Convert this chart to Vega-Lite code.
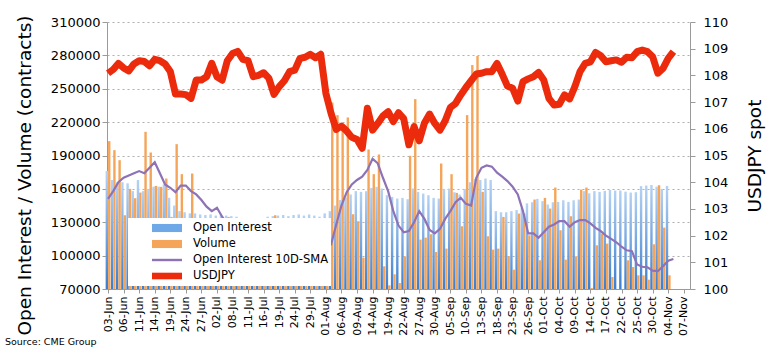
{
"$schema":"https://vega.github.io/schema/vega-lite/v6.json",
"width":583,"height":267,"autosize":"none",
"padding":{"left":107,"top":22,"right":77,"bottom":65},
"config":{"font":"DejaVu Sans","view":{"stroke":null},"axis":{"domainColor":"#9a9a9a","tickColor":"#9a9a9a","labelColor":"#000","titleColor":"#000","titleFontWeight":"normal"}},
"title":{"text":"Source: CME Group","orient":"bottom","anchor":"start","frame":"group","dx":-102,"offset":2,"fontSize":9.5,"fontWeight":"normal","color":"#000"},
"datasets":{"main":[
{"d":"03-Jun","oi":176000,"vol":202900,"sma":151000,"jpy":108.08},
{"d":"04-Jun","oi":168000,"vol":194800,"sma":158000,"jpy":108.22},
{"d":"05-Jun","oi":166000,"vol":185800,"sma":166000,"jpy":108.45},
{"d":"06-Jun","oi":166000,"vol":136300,"sma":170000,"jpy":108.28},
{"d":"07-Jun","oi":165000,"vol":160000,"sma":172000,"jpy":108.17},
{"d":"10-Jun","oi":158000,"vol":151600,"sma":174000,"jpy":108.43},
{"d":"11-Jun","oi":168000,"vol":156700,"sma":176000,"jpy":108.55},
{"d":"12-Jun","oi":158000,"vol":211300,"sma":174000,"jpy":108.52},
{"d":"13-Jun","oi":160000,"vol":192700,"sma":179000,"jpy":108.36},
{"d":"14-Jun","oi":162000,"vol":162700,"sma":184000,"jpy":108.6},
{"d":"17-Jun","oi":162000,"vol":161800,"sma":174000,"jpy":108.55},
{"d":"18-Jun","oi":164000,"vol":169300,"sma":164000,"jpy":108.43},
{"d":"19-Jun","oi":152000,"vol":134800,"sma":161000,"jpy":108.15},
{"d":"20-Jun","oi":145000,"vol":200200,"sma":157000,"jpy":107.3},
{"d":"21-Jun","oi":140000,"vol":173200,"sma":163000,"jpy":107.3},
{"d":"24-Jun","oi":139000,"vol":125000,"sma":163000,"jpy":107.28},
{"d":"25-Jun","oi":138000,"vol":173800,"sma":158000,"jpy":107.14},
{"d":"26-Jun","oi":138000,"vol":118000,"sma":155000,"jpy":107.83},
{"d":"27-Jun","oi":137000,"vol":95000,"sma":150000,"jpy":107.83},
{"d":"28-Jun","oi":136500,"vol":104000,"sma":144000,"jpy":107.95},
{"d":"01-Jul","oi":137000,"vol":112000,"sma":140000,"jpy":108.45},
{"d":"02-Jul","oi":136000,"vol":98000,"sma":143000,"jpy":107.95},
{"d":"03-Jul","oi":136500,"vol":121000,"sma":135000,"jpy":107.82},
{"d":"05-Jul","oi":136000,"vol":134800,"sma":128000,"jpy":108.55},
{"d":"08-Jul","oi":135500,"vol":110000,"sma":124000,"jpy":108.82},
{"d":"09-Jul","oi":135000,"vol":101000,"sma":120000,"jpy":108.9},
{"d":"10-Jul","oi":131000,"vol":97000,"sma":117000,"jpy":108.6},
{"d":"11-Jul","oi":130000,"vol":106000,"sma":113000,"jpy":108.55},
{"d":"12-Jul","oi":129000,"vol":92000,"sma":110000,"jpy":107.95},
{"d":"15-Jul","oi":130000,"vol":99000,"sma":106000,"jpy":108.0},
{"d":"16-Jul","oi":131000,"vol":88000,"sma":103000,"jpy":108.1},
{"d":"17-Jul","oi":135000,"vol":104000,"sma":100000,"jpy":107.9},
{"d":"18-Jul","oi":135500,"vol":136300,"sma":97000,"jpy":107.29},
{"d":"19-Jul","oi":136000,"vol":96000,"sma":95000,"jpy":107.58},
{"d":"22-Jul","oi":136500,"vol":90000,"sma":93000,"jpy":107.8},
{"d":"23-Jul","oi":135500,"vol":101000,"sma":92000,"jpy":108.14},
{"d":"24-Jul","oi":136500,"vol":94000,"sma":92000,"jpy":108.2},
{"d":"25-Jul","oi":137000,"vol":99000,"sma":93000,"jpy":108.64},
{"d":"26-Jul","oi":136000,"vol":91000,"sma":95000,"jpy":108.68},
{"d":"29-Jul","oi":137000,"vol":87000,"sma":98000,"jpy":108.79},
{"d":"30-Jul","oi":136000,"vol":112000,"sma":101000,"jpy":108.66},
{"d":"31-Jul","oi":135000,"vol":96000,"sma":104000,"jpy":108.79},
{"d":"01-Aug","oi":138000,"vol":120000,"sma":106000,"jpy":107.33},
{"d":"02-Aug","oi":140000,"vol":237700,"sma":110000,"jpy":106.58},
{"d":"05-Aug","oi":145000,"vol":226300,"sma":128000,"jpy":105.98},
{"d":"06-Aug","oi":150000,"vol":216400,"sma":145000,"jpy":106.1},
{"d":"07-Aug","oi":152000,"vol":224200,"sma":157000,"jpy":105.92},
{"d":"08-Aug","oi":155000,"vol":137200,"sma":164000,"jpy":105.68},
{"d":"09-Aug","oi":158000,"vol":130900,"sma":168000,"jpy":105.6},
{"d":"12-Aug","oi":157300,"vol":98200,"sma":171000,"jpy":105.27},
{"d":"13-Aug","oi":157900,"vol":195400,"sma":177000,"jpy":106.77},
{"d":"14-Aug","oi":160900,"vol":173200,"sma":187000,"jpy":105.95},
{"d":"15-Aug","oi":161800,"vol":190900,"sma":183000,"jpy":106.2},
{"d":"16-Aug","oi":160300,"vol":90400,"sma":170000,"jpy":106.48},
{"d":"19-Aug","oi":154300,"vol":73300,"sma":158000,"jpy":106.64},
{"d":"20-Aug","oi":152800,"vol":83200,"sma":140000,"jpy":106.27},
{"d":"21-Aug","oi":151300,"vol":75400,"sma":127000,"jpy":106.6},
{"d":"22-Aug","oi":151900,"vol":99400,"sma":121000,"jpy":106.38},
{"d":"23-Aug","oi":150700,"vol":189700,"sma":122000,"jpy":105.4},
{"d":"26-Aug","oi":160300,"vol":240700,"sma":130000,"jpy":106.08},
{"d":"27-Aug","oi":157300,"vol":114400,"sma":140000,"jpy":105.55},
{"d":"28-Aug","oi":155800,"vol":116200,"sma":133000,"jpy":106.22},
{"d":"29-Aug","oi":154300,"vol":119200,"sma":123000,"jpy":106.55},
{"d":"30-Aug","oi":151900,"vol":103300,"sma":120000,"jpy":106.2},
{"d":"03-Sep","oi":151300,"vol":182800,"sma":124000,"jpy":105.95},
{"d":"04-Sep","oi":160000,"vol":106300,"sma":133000,"jpy":106.3},
{"d":"05-Sep","oi":160300,"vol":173200,"sma":140000,"jpy":106.8},
{"d":"06-Sep","oi":157000,"vol":156400,"sma":148000,"jpy":106.95},
{"d":"09-Sep","oi":154900,"vol":126400,"sma":152000,"jpy":107.27},
{"d":"10-Sep","oi":160000,"vol":226300,"sma":146500,"jpy":107.55},
{"d":"11-Sep","oi":166000,"vol":271300,"sma":145000,"jpy":107.8},
{"d":"12-Sep","oi":169000,"vol":279400,"sma":170000,"jpy":108.05},
{"d":"13-Sep","oi":168000,"vol":157300,"sma":179000,"jpy":108.08},
{"d":"16-Sep","oi":169300,"vol":117400,"sma":181000,"jpy":108.14},
{"d":"17-Sep","oi":168000,"vol":105400,"sma":180000,"jpy":108.14},
{"d":"18-Sep","oi":140000,"vol":106300,"sma":174500,"jpy":108.45},
{"d":"19-Sep","oi":139000,"vol":134800,"sma":171000,"jpy":108.04},
{"d":"20-Sep","oi":139000,"vol":99400,"sma":167000,"jpy":107.6},
{"d":"23-Sep","oi":140000,"vol":87400,"sma":162000,"jpy":107.52},
{"d":"24-Sep","oi":141000,"vol":137800,"sma":155000,"jpy":107.04},
{"d":"25-Sep","oi":143000,"vol":137800,"sma":140000,"jpy":107.77},
{"d":"26-Sep","oi":147000,"vol":118300,"sma":120000,"jpy":107.87},
{"d":"27-Sep","oi":148000,"vol":150400,"sma":120000,"jpy":107.95},
{"d":"30-Sep","oi":151000,"vol":95800,"sma":116000,"jpy":108.11},
{"d":"01-Oct","oi":149000,"vol":151900,"sma":121000,"jpy":107.83},
{"d":"02-Oct","oi":146000,"vol":142300,"sma":126000,"jpy":107.14},
{"d":"03-Oct","oi":148000,"vol":161200,"sma":128000,"jpy":106.89},
{"d":"04-Oct","oi":148300,"vol":122800,"sma":131000,"jpy":106.92},
{"d":"07-Oct","oi":149800,"vol":96400,"sma":131000,"jpy":107.27},
{"d":"08-Oct","oi":148300,"vol":135400,"sma":126000,"jpy":107.12},
{"d":"09-Oct","oi":149800,"vol":99400,"sma":130000,"jpy":107.58},
{"d":"10-Oct","oi":150400,"vol":159400,"sma":132000,"jpy":108.14},
{"d":"11-Oct","oi":158000,"vol":161200,"sma":132000,"jpy":108.45},
{"d":"14-Oct","oi":156000,"vol":71000,"sma":129000,"jpy":108.51},
{"d":"15-Oct","oi":158000,"vol":109300,"sma":125000,"jpy":108.86},
{"d":"16-Oct","oi":157300,"vol":119800,"sma":122000,"jpy":108.74},
{"d":"17-Oct","oi":158200,"vol":110800,"sma":118000,"jpy":108.51},
{"d":"18-Oct","oi":159000,"vol":80800,"sma":115000,"jpy":108.55},
{"d":"21-Oct","oi":158500,"vol":null,"sma":112000,"jpy":108.58},
{"d":"22-Oct","oi":158500,"vol":null,"sma":108000,"jpy":108.49},
{"d":"23-Oct","oi":157500,"vol":95800,"sma":104800,"jpy":108.68},
{"d":"24-Oct","oi":156700,"vol":89800,"sma":104000,"jpy":108.66},
{"d":"25-Oct","oi":157000,"vol":82300,"sma":92000,"jpy":108.89},
{"d":"28-Oct","oi":162500,"vol":82300,"sma":90000,"jpy":108.95},
{"d":"29-Oct","oi":163000,"vol":78400,"sma":89500,"jpy":108.89},
{"d":"30-Oct","oi":163500,"vol":110200,"sma":86500,"jpy":108.7},
{"d":"31-Oct","oi":162000,"vol":163300,"sma":86000,"jpy":108.08},
{"d":"01-Nov","oi":160000,"vol":125200,"sma":90500,"jpy":108.26},
{"d":"04-Nov","oi":162700,"vol":82300,"sma":95500,"jpy":108.64},
{"d":"05-Nov","oi":null,"vol":null,"sma":97000,"jpy":108.89}
]},
"data":{"name":"main"},
"encoding":{"x":{"field":"d","type":"ordinal","title":null,
 "scale":{"type":"point","padding":0.2,"domain":["03-Jun","04-Jun","05-Jun","06-Jun","07-Jun","10-Jun","11-Jun","12-Jun","13-Jun","14-Jun","17-Jun","18-Jun","19-Jun","20-Jun","21-Jun","24-Jun","25-Jun","26-Jun","27-Jun","28-Jun","01-Jul","02-Jul","03-Jul","05-Jul","08-Jul","09-Jul","10-Jul","11-Jul","12-Jul","15-Jul","16-Jul","17-Jul","18-Jul","19-Jul","22-Jul","23-Jul","24-Jul","25-Jul","26-Jul","29-Jul","30-Jul","31-Jul","01-Aug","02-Aug","05-Aug","06-Aug","07-Aug","08-Aug","09-Aug","12-Aug","13-Aug","14-Aug","15-Aug","16-Aug","19-Aug","20-Aug","21-Aug","22-Aug","23-Aug","26-Aug","27-Aug","28-Aug","29-Aug","30-Aug","03-Sep","04-Sep","05-Sep","06-Sep","09-Sep","10-Sep","11-Sep","12-Sep","13-Sep","16-Sep","17-Sep","18-Sep","19-Sep","20-Sep","23-Sep","24-Sep","25-Sep","26-Sep","27-Sep","30-Sep","01-Oct","02-Oct","03-Oct","04-Oct","07-Oct","08-Oct","09-Oct","10-Oct","11-Oct","14-Oct","15-Oct","16-Oct","17-Oct","18-Oct","21-Oct","22-Oct","23-Oct","24-Oct","25-Oct","28-Oct","29-Oct","30-Oct","31-Oct","01-Nov","04-Nov","05-Nov","06-Nov","07-Nov","08-Nov"]},
 "axis":{"values":["03-Jun","06-Jun","11-Jun","14-Jun","19-Jun","24-Jun","27-Jun","02-Jul","08-Jul","11-Jul","16-Jul","19-Jul","24-Jul","29-Jul","01-Aug","06-Aug","09-Aug","14-Aug","19-Aug","22-Aug","27-Aug","30-Aug","05-Sep","10-Sep","13-Sep","18-Sep","23-Sep","26-Sep","01-Oct","04-Oct","09-Oct","14-Oct","17-Oct","22-Oct","25-Oct","30-Oct","04-Nov","07-Nov"],"labelAngle":-90,"labelFontSize":11,"labelPadding":3,"tickSize":4,"grid":false,"labelOverlap":false}}},
"layer":[
 {"layer":[
  {"mark":{"type":"bar","width":2.4,"xOffset":-1.2,"color":{"gradient":"linear","x1":0,"y1":0,"x2":0,"y2":1,"stops":[{"offset":0,"color":"#B5D2F3"},{"offset":1,"color":"#3A7ED0"}]}},
   "encoding":{"y":{"field":"oi","type":"quantitative","scale":{"domain":[70000,310000],"zero":false,"nice":false},
     "axis":{"title":"Open Interest / Volume (contracts)","values":[70000,100000,130000,160000,190000,220000,250000,280000,310000],"tickCount":20,"format":"d","labelOverlap":false,"labelFontSize":13,"titleFontSize":18.5,"titlePadding":16,"titleY":153,"grid":true,"gridDash":[2,3],"gridColor":"#b0b0b0","gridWidth":1.2,"tickSize":5,"labelPadding":2}},
    "y2":{"datum":70000}}},
  {"mark":{"type":"bar","width":2.4,"xOffset":1.2,"color":"#F5A55A"},
   "encoding":{"y":{"field":"vol","type":"quantitative"},"y2":{"datum":70000}}},
  {"mark":{"type":"line","color":"#8E72B6","strokeWidth":2.2},
   "encoding":{"y":{"field":"sma","type":"quantitative"}}}
 ]},
 {"mark":{"type":"line","color":"#EC2A0C","strokeWidth":7,"strokeCap":"butt","strokeJoin":"round"},
  "encoding":{"y":{"field":"jpy","type":"quantitative","scale":{"domain":[100,110],"zero":false,"nice":false},
   "axis":{"orient":"right","title":"USDJPY spot","values":[100,101,102,103,104,105,106,107,108,109,110],"tickCount":20,"format":"d","labelOverlap":false,"labelFontSize":13,"titleFontSize":18.5,"titleAngle":-90,"titleBaseline":"top","titlePadding":18,"grid":false,"tickSize":5,"labelPadding":8}}}},
 {"data":{"values":[{"s":"Open Interest"},{"s":"Volume"},{"s":"Open Interest 10D-SMA"},{"s":"USDJPY"}]},
   "mark":{"type":"point","filled":true,"opacity":1,"clip":true},
   "encoding":{"x":{"datum":"03-Jun"},"y":{"datum":-10,"type":"quantitative","scale":{"domain":[0,1]},"axis":null},
    "color":{"field":"s","type":"nominal","scale":{"domain":["Open Interest","Volume","Open Interest 10D-SMA","USDJPY"],"range":["#6FA8E6","#F5A55A","#8E72B6","#EC2A0C"]},
      "legend":{"title":null,"orient":"none","legendX":21,"legendY":196,"fillColor":"white","padding":2,"symbolSize":900,"clipHeight":16,"rowPadding":0,"symbolOffset":22,"labelOffset":11,"labelFontSize":11.5,"labelLimit":0,"symbolStrokeWidth":0}},
    "shape":{"field":"s","type":"nominal","scale":{"domain":["Open Interest","Volume","Open Interest 10D-SMA","USDJPY"],"range":["M-1,-0.27H1V0.27H-1Z","M-1,-0.27H1V0.27H-1Z","M-1,-0.08H1V0.08H-1Z","M-1,-0.22H1V0.22H-1Z"]},
      "legend":{"title":null,"orient":"none","legendX":21,"legendY":196,"fillColor":"white","padding":2,"symbolSize":900,"clipHeight":16,"rowPadding":0,"symbolOffset":22,"labelOffset":11,"labelFontSize":11.5,"labelLimit":0,"symbolStrokeWidth":0}}}}
],
"resolve":{"scale":{"y":"independent"},"axis":{"y":"independent"}}
}
